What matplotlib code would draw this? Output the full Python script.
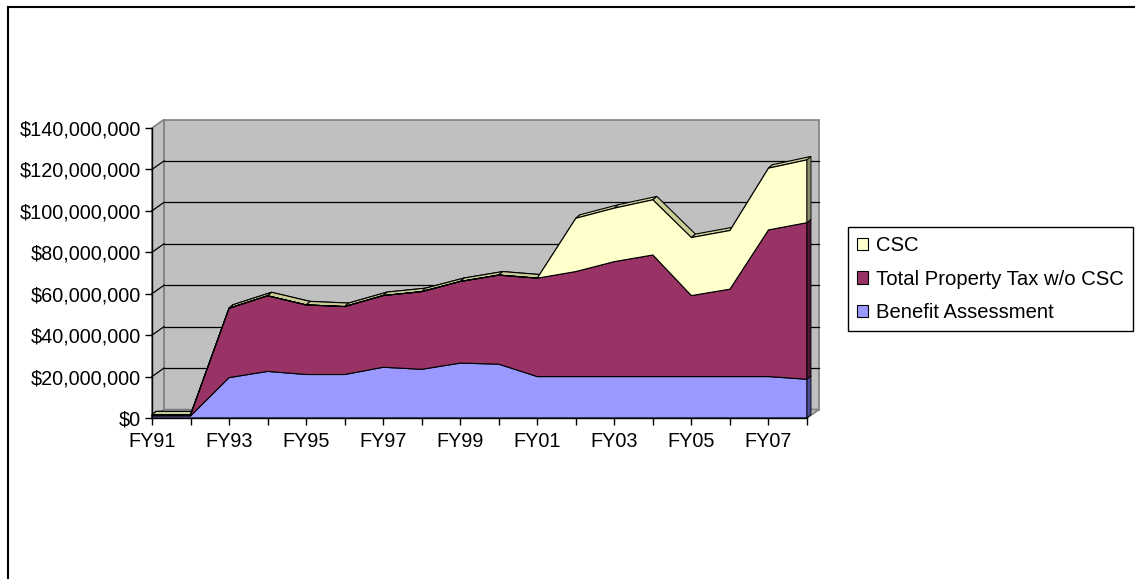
import matplotlib
matplotlib.use('Agg')
import matplotlib.pyplot as plt
from matplotlib.patches import Polygon, Patch
from matplotlib.lines import Line2D
from matplotlib.ticker import FuncFormatter
import numpy as np

# values in millions of dollars
years = ['FY91', 'FY92', 'FY93', 'FY94', 'FY95', 'FY96', 'FY97', 'FY98', 'FY99',
         'FY00', 'FY01', 'FY02', 'FY03', 'FY04', 'FY05', 'FY06', 'FY07', 'FY08']
benefit = [1.0, 1.0, 19.5, 22.5, 21.0, 21.0, 24.5, 23.5, 26.5,
           26.0, 20.0, 20.0, 20.0, 20.0, 20.0, 20.0, 20.0, 18.7]
property_tax = [0.5, 0.5, 33.5, 36.5, 33.6, 32.8, 34.6, 37.5, 39.4,
                43.0, 47.5, 50.7, 55.5, 58.7, 39.1, 42.2, 70.8, 75.6]
csc = [0.0, 0.0, 0.0, 0.0, 0.0, 0.0, 0.0, 0.0, 0.0,
       0.0, 0.0, 25.7, 25.8, 26.6, 28.0, 28.3, 29.8, 30.3]

plt.rcParams['font.family'] = ['Liberation Sans', 'DejaVu Sans']
plt.rcParams['font.size'] = 14

fig = plt.figure(figsize=(11.35, 5.79), dpi=100)
ax = fig.add_axes([152/1135, 1-418/579, (807-152)/1135, 290/579])
n = len(years)
ax.set_xlim(0, n-1)
ax.set_ylim(0, 140)
ax.patch.set_alpha(0)
for s in ['top', 'right']:
    ax.spines[s].set_visible(False)
for s in ['left', 'bottom']:
    ax.spines[s].set_zorder(20)
    ax.spines[s].set_linewidth(1)

# depth offsets (data units) for walls and areas
px_x = (807-152)/(n-1)
px_y = 290/140
wdx, wdy = 12/px_x, 8.5/px_y
adx, ady = 4/px_x, 3.5/px_y
xr = n-1

wall = '#C0C0C0'
edge = '#808080'
ax.add_patch(Polygon([(wdx, wdy), (xr+wdx, wdy), (xr+wdx, 140+wdy), (wdx, 140+wdy)],
                     closed=True, fc=wall, ec=edge, lw=1.2, clip_on=False, zorder=1))
ax.add_patch(Polygon([(0, 0), (0, 140), (wdx, 140+wdy), (wdx, wdy)],
                     closed=True, fc=wall, ec=edge, lw=1.2, clip_on=False, zorder=1))
ax.add_patch(Polygon([(0, 0), (xr, 0), (xr+wdx, wdy), (wdx, wdy)],
                     closed=True, fc=wall, ec=edge, lw=1.2, clip_on=False, zorder=1))
for v in range(20, 140, 20):
    ax.plot([wdx, xr+wdx], [v+wdy, v+wdy], color='black', lw=0.9, clip_on=False, zorder=2)
    ax.plot([0, wdx], [v, v+wdy], color='black', lw=0.9, clip_on=False, zorder=2)

x = np.arange(n)
b1 = np.array(benefit)
b2 = b1 + np.array(property_tax)
b3 = b2 + np.array(csc)
b0 = np.zeros(n)
series = [
    (b0, b1, '#9999FF', '#7A7ACC', '#4D4D99', 'Benefit Assessment'),
    (b1, b2, '#993366', '#7A2952', '#4D1933', 'Total Property Tax w/o CSC'),
    (b2, b3, '#FFFFCC', '#CCCC99', '#8C8C6E', 'CSC'),
]

# top surfaces
for lo, hi, fc, tc, sc, lab in series:
    for i in range(n-1):
        pts = [(x[i], hi[i]), (x[i+1], hi[i+1]),
               (x[i+1]+adx, hi[i+1]+ady), (x[i]+adx, hi[i]+ady)]
        ax.add_patch(Polygon(pts, closed=True, fc=tc, ec='black', lw=0.8,
                             clip_on=False, zorder=3))
# front faces
for lo, hi, fc, tc, sc, lab in series:
    pts = list(zip(x, hi)) + list(zip(x[::-1], lo[::-1]))
    ax.add_patch(Polygon(pts, closed=True, fc=fc, ec='black', lw=0.8,
                         clip_on=False, zorder=4))
# right side faces
for lo, hi, fc, tc, sc, lab in series:
    pts = [(xr, lo[-1]), (xr, hi[-1]), (xr+adx, hi[-1]+ady), (xr+adx, lo[-1]+ady)]
    ax.add_patch(Polygon(pts, closed=True, fc=sc, ec='black', lw=0.6,
                         clip_on=False, zorder=4))

ax.set_yticks(range(0, 141, 20))
ax.yaxis.set_major_formatter(FuncFormatter(lambda v, p: '${:,.0f}'.format(v*1e6)))
ax.set_xticks(x)
ax.set_xticklabels([y if i % 2 == 0 else '' for i, y in enumerate(years)])
ax.tick_params(direction='out', length=5, width=1, color='black', labelsize=14.3)
ax.tick_params(axis='x', pad=5)
ax.tick_params(axis='y', pad=3)

# outer chart border (left and top only visible)
fig.add_artist(Line2D([8/1135, 8/1135], [0, 1-7/579], transform=fig.transFigure,
                      color='black', lw=1.5))
fig.add_artist(Line2D([8/1135, 1], [1-7/579, 1-7/579], transform=fig.transFigure,
                      color='black', lw=1.5))

handles = [Patch(fc=s[2], ec='black', lw=0.8) for s in series[::-1]]
labels = [s[5] for s in series[::-1]]
leg = fig.legend(handles, labels, loc='upper left', bbox_to_anchor=(848/1135, 1-227/579),
                 frameon=True, fancybox=False, edgecolor='black', framealpha=1,
                 handlelength=0.55, handleheight=0.55, handletextpad=0.4,
                 labelspacing=0.72, borderpad=0.45, borderaxespad=0, fontsize=14.6)
leg.get_frame().set_linewidth(1)

plt.savefig('out.png', dpi=100)
